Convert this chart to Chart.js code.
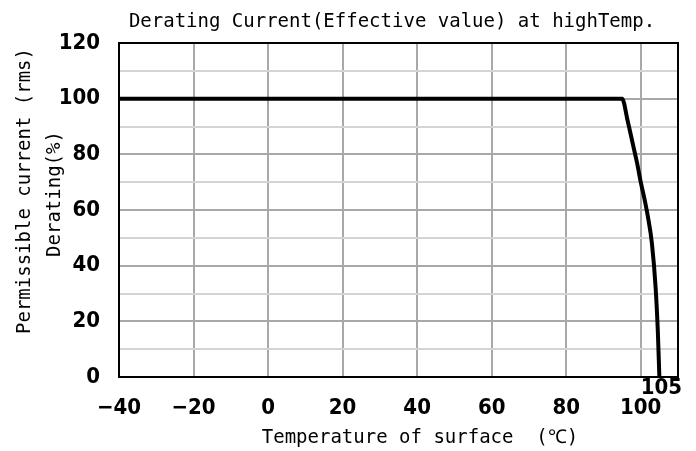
<!DOCTYPE html>
<html>
<head>
<meta charset="utf-8">
<script src="https://cdn.jsdelivr.net/npm/chart.js@4/dist/chart.umd.min.js"></script>
<style>
html,body{margin:0;padding:0;background:#fff;}
#wrap{width:696px;height:451px;position:relative;}
</style>
</head>
<body>
<div id="wrap"><canvas id="c" width="696" height="451"></canvas></div>
<script>
// ---- data ----
const temps    = [-40, 95, 96.5, 98, 99, 100, 101, 102, 103, 104, 104.6, 105];
const currents = [100, 100, 92, 83, 77, 70, 64, 57, 48, 32, 16, 0];
const xTickValues = [-40, -20, 0, 20, 40, 60, 80, 100, 110];
const xTickLabels = ['\u221240', '\u221220', '0', '20', '40', '60', '80', '100', ''];
const yTickValues = [0, 10, 20, 30, 40, 50, 60, 70, 80, 90, 100, 110, 120];
const yTickLabels = ['0', '', '20', '', '40', '', '60', '', '80', '', '100', '', '120'];
const markerTemp = 105;
const markerLabel = '105';
const titleText = 'Derating Current(Effective value) at highTemp.';
const xTitle = 'Temperature of surface  (\u2103)';
const yTitle1 = 'Permissible current (rms)';
const yTitle2 = 'Derating(%)';

const MONO = '"DejaVu Sans Mono", "Liberation Mono", monospace';
const NARROW = '"Liberation Sans Narrow", "DejaVu Sans Condensed", "DejaVu Sans", sans-serif';

const overlay = {
  id: 'overlay',
  afterDraw(chart) {
    const ctx = chart.ctx, a = chart.chartArea, xs = chart.scales.x;
    ctx.save();
    // frame
    ctx.strokeStyle = '#000';
    ctx.lineWidth = 2;
    ctx.strokeRect(a.left, a.top, a.right - a.left, a.bottom - a.top);
    // titles
    ctx.fillStyle = '#000';
    ctx.textAlign = 'center';
    ctx.textBaseline = 'middle';
    ctx.font = '19px ' + MONO;
    ctx.fillText(titleText, 392, 22);
    ctx.fillText(xTitle, 420, 438);
    ctx.save();
    ctx.translate(25, 191);
    ctx.rotate(-Math.PI / 2);
    ctx.fillText(yTitle1, 0, 0);
    ctx.restore();
    ctx.save();
    ctx.translate(55, 194);
    ctx.rotate(-Math.PI / 2);
    ctx.fillText(yTitle2, 0, 0);
    ctx.restore();
    // 105 marker label
    ctx.font = 'bold 22px ' + NARROW;
    ctx.textBaseline = 'top';
    ctx.fillText(markerLabel, xs.getPixelForValue(markerTemp) + 2, a.bottom);
    ctx.restore();
  }
};

new Chart(document.getElementById('c'), {
  type: 'line',
  data: {
    datasets: [{
      data: temps.map((t, i) => ({x: t, y: currents[i]})),
      borderColor: '#000',
      borderWidth: 4,
      pointRadius: 0,
      cubicInterpolationMode: 'monotone',
      fill: false
    }]
  },
  options: {
    responsive: false,
    animation: false,
    layout: {padding: {top: 43, right: 9, left: 0, bottom: 0}},
    plugins: {legend: {display: false}, tooltip: {enabled: false}, title: {display: false}},
    scales: {
      x: {
        type: 'linear',
        min: -40, max: 110,
        afterBuildTicks: s => { s.ticks = xTickValues.map(v => ({value: v})); },
        afterFit: s => { s.height = 74; },
        ticks: {
          autoSkip: false,
          maxRotation: 0,
          padding: 18,
          color: '#000',
          font: {family: NARROW, size: 22, weight: 'bold'},
          callback: (v) => { const i = xTickValues.indexOf(v); return i >= 0 ? xTickLabels[i] : ''; }
        },
        grid: {color: '#a8a8a8', lineWidth: 2, drawTicks: false},
        border: {display: false}
      },
      y: {
        type: 'linear',
        min: 0, max: 120,
        afterBuildTicks: s => { s.ticks = yTickValues.map(v => ({value: v})); },
        afterFit: s => { s.width = 119; },
        ticks: {
          autoSkip: false,
          padding: 19,
          color: '#000',
          font: {family: NARROW, size: 22, weight: 'bold'},
          callback: (v) => { const i = yTickValues.indexOf(v); return i >= 0 ? yTickLabels[i] : ''; }
        },
        grid: {
          color: c => (c.tick && c.tick.value % 20 === 0) ? '#a8a8a8' : '#d4d4d4',
          lineWidth: 2,
          drawTicks: false
        },
        border: {display: false}
      }
    }
  },
  plugins: [overlay]
});
</script>
</body>
</html>
